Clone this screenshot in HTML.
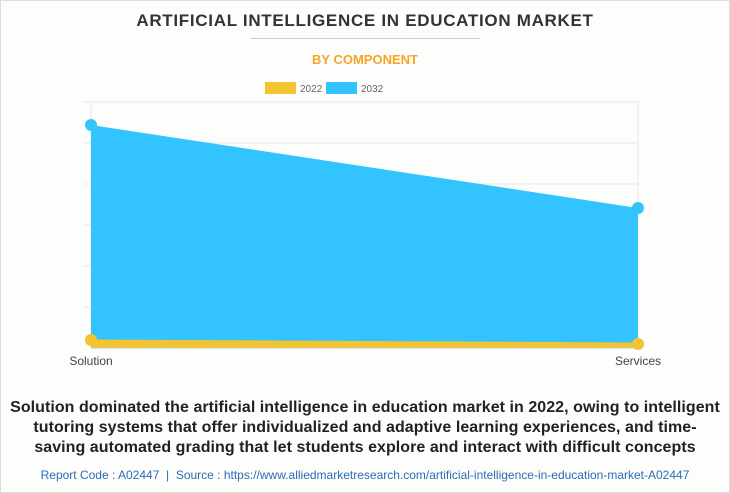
<!DOCTYPE html>
<html><head><style>
body{margin:0;background:#fff;}
.w{position:relative;width:728px;height:491px;border:1px solid #ddd;background:#fdfdfc;font-family:"Liberation Sans",Arial,sans-serif;overflow:hidden}
.t{position:absolute;top:10px;width:100%;text-align:center;font-weight:bold;font-size:17px;color:#333;letter-spacing:0.7px}
.hr{position:absolute;top:37px;left:250px;width:229px;height:1px;background:#ccc}
.s{position:absolute;top:51px;width:100%;text-align:center;font-weight:bold;font-size:13px;color:#f5a623}
.c{position:absolute;top:397px;left:0;width:100%;text-align:center;font-weight:bold;font-size:16px;color:#222;line-height:20px;letter-spacing:0.05px}
.r{position:absolute;top:467px;width:100%;text-align:center;font-size:12px;color:#2a6db5}
</style></head><body><div class="w">
<div class="t">ARTIFICIAL INTELLIGENCE IN EDUCATION MARKET</div>
<div class="hr"></div>
<div class="s">BY COMPONENT</div>
<svg style="position:absolute;left:0;top:0" width="730" height="400">
<rect x="264" y="81" width="31" height="12" fill="#f4c430"/>
<text x="299" y="91" font-size="10" fill="#666" font-family="Liberation Sans">2022</text>
<rect x="325" y="81" width="31" height="12" fill="#33c4ff"/>
<text x="360" y="91" font-size="10" fill="#666" font-family="Liberation Sans">2032</text>
<g stroke="#e6e6e6" stroke-width="1">
<line x1="83" y1="101" x2="637" y2="101"/><line x1="83" y1="142" x2="637" y2="142"/>
<line x1="83" y1="183" x2="637" y2="183"/><line x1="83" y1="224" x2="637" y2="224"/>
<line x1="83" y1="265" x2="637" y2="265"/><line x1="83" y1="306" x2="637" y2="306"/>
<line x1="90" y1="101" x2="90" y2="347"/><line x1="637" y1="101" x2="637" y2="347"/>
</g>
<polygon points="90,124 637,207 637,347 90,347" fill="#33c4ff"/>
<circle cx="90" cy="124" r="6" fill="#33c4ff"/>
<circle cx="637" cy="207" r="6" fill="#33c4ff"/>
<polygon points="90,339 637,343 637,347 90,347" fill="#f4c430"/>
<line x1="90" y1="341" x2="637" y2="344" stroke="#f4c430" stroke-width="5"/>
<line x1="90" y1="347" x2="637" y2="347" stroke="#c8c8b0" stroke-width="1"/>
<circle cx="90" cy="339" r="6" fill="#f4c430"/>
<circle cx="637" cy="343" r="6" fill="#f4c430"/>
<text x="90" y="364" font-size="12" fill="#444" text-anchor="middle" font-family="Liberation Sans">Solution</text>
<text x="637" y="364" font-size="12" fill="#444" text-anchor="middle" font-family="Liberation Sans">Services</text>
</svg>
<div class="c">Solution dominated the artificial intelligence in education market in 2022, owing to intelligent<br>tutoring systems that offer individualized and adaptive learning experiences, and time-<br>saving automated grading that let students explore and interact with difficult concepts</div>
<div class="r">Report Code : A02447 &nbsp;|&nbsp; Source : https://www.alliedmarketresearch.com/artificial-intelligence-in-education-market-A02447</div>
</div></body></html>
